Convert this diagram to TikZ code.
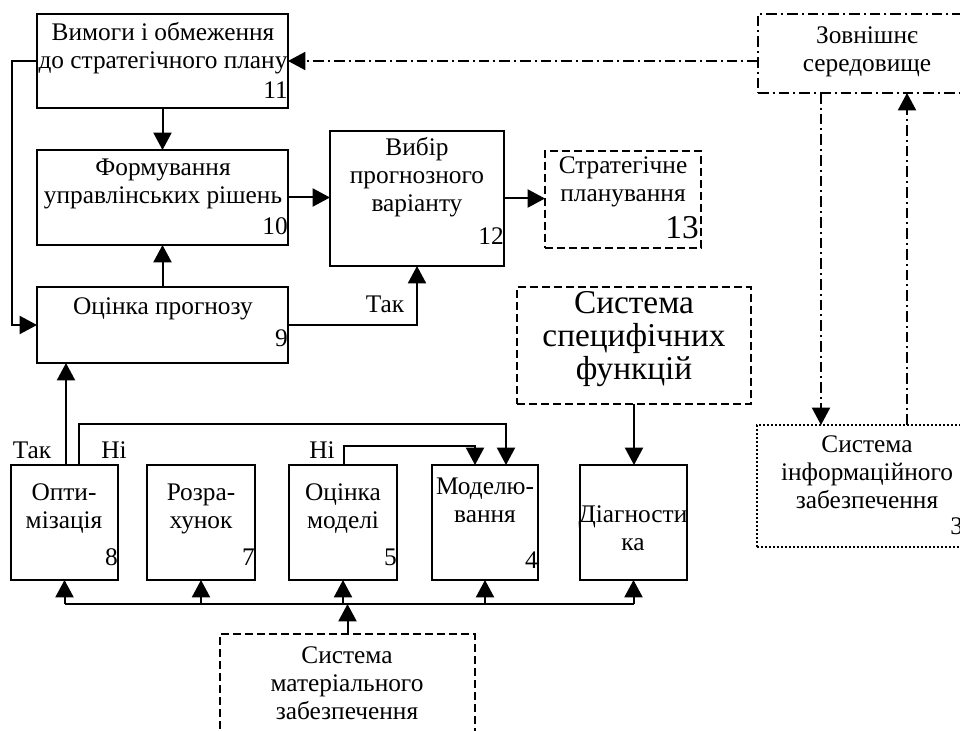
\documentclass[tikz,border=0pt]{standalone}
\usepackage{fontspec}
\setmainfont{Liberation Serif}
\usetikzlibrary{arrows.meta,fit}
\begin{document}
\begin{tikzpicture}[x=0.75pt,y=-0.75pt,
  lw/.style={line width=1.5pt},
  box/.style={draw, lw, inner sep=0pt, outer sep=0pt},
  dbox/.style={box, dash pattern=on 6pt off 3pt},
  ddbox/.style={box, dash pattern=on 8pt off 3pt on 1.5pt off 3pt},
  obox/.style={box, line width=1.8pt, dash pattern=on 1.6pt off 1.4pt},
  txt/.style={font=\fontsize{19}{21}\selectfont, align=center, inner sep=0pt},
  big/.style={font=\fontsize{25}{24.5}\selectfont, align=center, inner sep=0pt},
  num/.style={txt, anchor=east},
  tip/.style={-{Triangle[length=13pt,width=13.5pt]}},
  arr/.style={lw, tip},
  plain/.style={lw},
  dd/.style={lw, dash pattern=on 8pt off 3pt on 1.5pt off 3pt},
]
\useasboundingbox (0,0) rectangle (960,731);

% upper boxes
\node[box, fit={(37,14) (288,108)}] (b11) {};
\node[txt] (t11) at (163,48) {Вимоги і обмеження\\до стратегічного плану};
\node[num] (n11) at (288,90) {11};

\node[box, fit={(37,150) (288,245)}] (b10) {};
\node[txt] (t10) at (163,184) {Формування\\управлінських рішень};
\node[num] (n10) at (288,226) {10};

\node[box, fit={(330,131) (504,266)}] (b12) {};
\node[txt] (t12) at (417,177) {Вибір\\прогнозного\\варіанту};
\node[num] (n12) at (504,236) {12};

\node[dbox, fit={(545,151) (701,248)}] (b13) {};
\node[txt] (t13) at (623,182) {Стратегічне\\планування};
\node[big, anchor=east] (n13) at (699,228) {13};

\node[box, fit={(37,287) (288,363)}] (b9) {};
\node[txt] (t9) at (163,309) {Оцінка прогнозу};
\node[num] (n9) at (288,338) {9};

\node[ddbox, fit={(758,14) (976,93)}] (bz) {};
\node[txt] (tz) at (867,52) {Зовнішнє\\середовище};

\node[dbox, fit={(517,287) (751,404)}] (bs) {};
\node[big] (ts) at (634,339) {Система\\специфічних\\функцій};

\node[obox, fit={(757,425) (976,547)}] (bi) {};
\node[txt] (ti) at (867,472) {Система\\інформаційного\\забезпечення};
\node[txt, anchor=west] (ni) at (950,526) {3};

% lower boxes
\node[box, fit={(11,465) (118,580)}] (b8) {};
\node[txt] (t8) at (64,509) {Опти-\\мізація};
\node[num] (n8) at (118,557) {8};

\node[box, fit={(147,465) (255,580)}] (b7) {};
\node[txt] (t7) at (201,509) {Розра-\\хунок};
\node[num] (n7) at (255,557) {7};

\node[box, fit={(289,465) (397,580)}] (b5) {};
\node[txt] (t5) at (343,509) {Оцінка\\моделі};
\node[num] (n5) at (397,557) {5};

\node[box, fit={(432,465) (538,580)}] (b4) {};
\node[txt] (t4) at (485,500) {Моделю-\\вання};
\node[num] (n4) at (538,560) {4};

\node[box, fit={(580,465) (687,580)}] (bd) {};
\node[txt] (td) at (633,528) {Діагности\\ка};

\node[dbox, fit={(220,634) (475,745)}] (bm) {};
\node[txt] (tm) at (347,683) {Система\\матеріального\\забезпечення};

% labels
\node[txt] (l1) at (385,304) {Так};
\node[txt] (l2) at (32,450) {Так};
\node[txt] (l3) at (114,450) {Ні};
\node[txt] (l4) at (322,450) {Ні};

% connectors
\draw[arr] (b11) -- (b10);
\draw[arr] (b10.east) -- (b10.east -| b12.west);
\draw[arr] (b12.east) -- (b12.east -| b13.west);
\draw[arr] (b9) -- (b10);
\draw[arr] (b9.east) -| (b12.south);
\draw[arr] (b11.west) -- ++(-25,0) |- (b9.west);

\draw[dd, tip] (bz.west |- b11.east) -- (b11.east);
\coordinate (cz1) at (821,0);
\coordinate (cz2) at (907,0);
\draw[dd, tip] (bz.south -| cz1) -- (bi.north -| cz1);
\draw[dd, tip] (bi.north -| cz2) -- (bz.south -| cz2);

\draw[arr] (bs.south) -- (bs.south |- bd.north);

\coordinate (c66) at (66,0);
\draw[arr] (b8.north -| c66) -- (b9.south -| c66);
\coordinate (k1) at (79,424);
\coordinate (k2) at (506,424);
\draw[arr] (b8.north -| k1) -- (k1) -- (k2) -- (b4.north -| k2);
\coordinate (k3) at (344,446);
\coordinate (k4) at (475,446);
\draw[arr] (b5.north -| k3) -- (k3) -- (k4) -- (b4.north -| k4);

\coordinate (bus) at (0,604);
\draw[plain] (b8.south |- bus) -- (bd.south |- bus);
\foreach \b in {b8,b7,b5,b4,bd}{
  \draw[arr] (\b.south |- bus) -- (\b.south);
}
\draw[arr] (bm.north) -- (bm.north |- bus);
\end{tikzpicture}
\end{document}
